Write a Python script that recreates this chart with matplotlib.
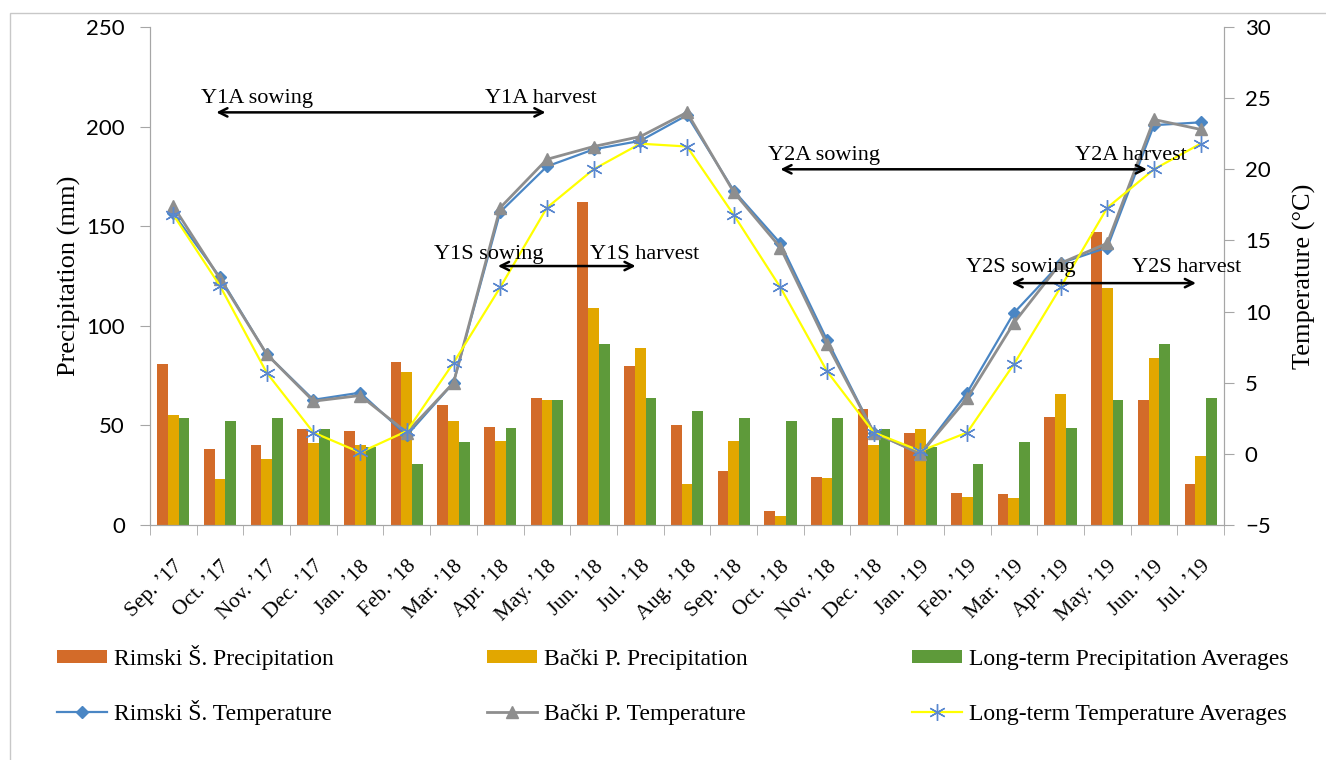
import matplotlib
matplotlib.use("Agg")
import matplotlib.pyplot as plt
import numpy as np
from matplotlib.patches import Rectangle

months = ["Sep. ’17", "Oct. ’17", "Nov. ’17", "Dec. ’17", "Jan. ’18", "Feb. ’18",
          "Mar. ’18", "Apr. ’18", "May. ’18", "Jun. ’18", "Jul. ’18", "Aug. ’18",
          "Sep. ’18", "Oct. ’18", "Nov. ’18", "Dec. ’18", "Jan. ’19", "Feb. ’19",
          "Mar. ’19", "Apr. ’19", "May. ’19", "Jun. ’19", "Jul. ’19"]

# precipitation (mm)
rimski_prec = [81, 38, 40, 48, 47, 82, 60, 49, 64, 162, 80, 50,
               27, 7, 24, 58, 46, 16, 15.5, 54, 147, 63, 20.5]
backi_prec = [55, 23, 33, 41, 40, 77, 52, 42, 63, 109, 89, 20.6,
              42, 4.5, 23.6, 40, 48, 14, 13.5, 66, 119, 84, 34.6]
longterm_prec = [53.7, 52, 53.7, 48, 39, 30.6, 41.7, 48.7, 63, 91, 64, 57,
                 53.7, 52, 53.7, 48, 39, 30.6, 41.7, 48.7, 63, 91, 64]

# temperature (°C)
rimski_temp = [16.9, 12.4, 7.0, 3.8, 4.3, 1.3, 5.0, 17.0, 20.2, 21.4, 22.0, 23.8,
               18.5, 14.8, 8.0, 1.5, 0.0, 4.3, 9.9, 13.4, 14.5, 23.1, 23.3]
backi_temp = [17.4, 12.3, 7.0, 3.7, 4.1, 1.5, 5.0, 17.3, 20.7, 21.6, 22.3, 24.0,
              18.4, 14.5, 7.7, 1.5, 0.0, 3.9, 9.2, 13.4, 14.8, 23.5, 22.8]
longterm_temp = [16.8, 11.8, 5.7, 1.5, 0.1, 1.6, 6.4, 11.7, 17.3, 20.0, 21.8, 21.6,
                 16.8, 11.7, 5.8, 1.5, 0.2, 1.5, 6.3, 11.7, 17.3, 20.0, 21.8]

# sowing / harvest periods: (label left, label right, start idx, end idx)
periods = [("Y1A sowing", "Y1A harvest", 0.92, 7.97),
           ("Y1S sowing", "Y1S harvest", 6.95, 9.9),
           ("Y2A sowing", "Y2A harvest", 13.0, 20.85),
           ("Y2S sowing", "Y2S harvest", 17.95, 21.9)]

SERIF = "Liberation Serif"
SANS = "Lato"
c_orange = "#D36B29"
c_gold = "#E2A700"
c_green = "#5E9A3A"
c_blue = "#4A86C4"
c_gray = "#8E8E8E"
c_yellow = "#FFFF00"
c_star = "#5A88CF"
c_axis = "#A6A6A6"

fig = plt.figure(figsize=(13.26, 7.6), dpi=100)
W, H = 1326, 760
ax = fig.add_axes([150 / W, 1 - 525 / H, (1224 - 150) / W, (525 - 27) / H])
ax2 = ax.twinx()

# frame around chart area
fig.patches.append(Rectangle((10 / W, -0.05), 1.1, 1 - 13 / H + 0.05, transform=fig.transFigure,
                             fill=False, edgecolor="#C8C8C8", lw=1))

x = np.arange(len(months))
bw = 0.23
b1 = ax.bar(x - bw, rimski_prec, bw, color=c_orange, label="Rimski Š. Precipitation")
b2 = ax.bar(x, backi_prec, bw, color=c_gold, label="Bački P. Precipitation")
b3 = ax.bar(x + bw, longterm_prec, bw, color=c_green, label="Long-term Precipitation Averages")

ax.set_xlim(-0.5, len(months) - 0.5)
ax.set_ylim(0, 250)
ax.set_yticks(np.arange(0, 251, 50))
ax2.set_ylim(-5, 30)
ax2.set_yticks(np.arange(-5, 31, 5))

l1, = ax2.plot(x, rimski_temp, color=c_blue, lw=1.6, marker="D", ms=6, mfc=c_blue, mec=c_blue,
               label="Rimski Š. Temperature")
l2, = ax2.plot(x, backi_temp, color=c_gray, lw=2, marker="^", ms=8, mfc=c_gray, mec=c_gray,
               label="Bački P. Temperature")
l3, = ax2.plot(x, longterm_temp, color=c_yellow, lw=1.6, marker=(6, 2, 0), ms=12, mec=c_star,
               mew=1, label="Long-term Temperature Averages")

# x axis ticks: labels at centres, tick marks at boundaries
ax.set_xticks(x)
ax.set_xticklabels(months, rotation=45, ha="right", va="top", rotation_mode="anchor",
                   fontsize=15.5, family=SERIF)
ax.set_xticks(np.arange(-0.5, len(months), 1), minor=True)
ax.tick_params(axis="x", which="major", length=0, pad=23)
ax.tick_params(axis="x", which="minor", length=7, color=c_axis)

for a in (ax, ax2):
    for s in a.spines.values():
        s.set_color(c_axis)
    a.spines["top"].set_visible(False)
ax.tick_params(axis="y", length=7, color=c_axis, pad=11, labelsize=16)
ax2.tick_params(axis="y", length=7, color=c_axis, pad=8, labelsize=16)
for lab in ax.get_yticklabels() + ax2.get_yticklabels():
    lab.set_family(SANS)

ax.set_ylabel("Precipitation (mm)", fontsize=19, family=SERIF, labelpad=4)
ax2.set_ylabel("Temperature (°C)", fontsize=19, family=SERIF, labelpad=16)

# period arrows + labels (y in °C units)
arrow_y = [24.0, 13.2, 20.0, 12.0]
text_y = [25.0, 14.0, 21.0, 13.1]
text_x = [(1.8, 7.88), (6.75, 10.1), (13.94, 20.5), (18.14, 21.7)]
for (ls, lh, x0, x1), ay, ty, (tx0, tx1) in zip(periods, arrow_y, text_y, text_x):
    ax2.annotate("", xy=(x0, ay), xytext=(x1, ay),
                 arrowprops=dict(arrowstyle="<->,head_length=0.6,head_width=0.3", color="black", lw=1.8,
                                 shrinkA=0, shrinkB=0))
    ax2.text(tx0, ty, ls, ha="center", va="center", fontsize=16, family=SERIF)
    ax2.text(tx1, ty, lh, ha="center", va="center", fontsize=16, family=SERIF)

# legend: one small legend per entry, bottom-anchored so baselines line up
col_x = [57, 487, 912]
row_bottom = [670, 725]
for row, hs in enumerate([[b1, b2, b3], [l1, l2, l3]]):
    for h, cx in zip(hs, col_x):
        fig.legend([h], [h.get_label()], loc="lower left",
                   bbox_to_anchor=(cx / W, 1 - row_bottom[row] / H), frameon=False, borderpad=0,
                   borderaxespad=0, handlelength=2.1, handleheight=0.5, handletextpad=0.3,
                   prop={"family": SERIF, "size": 17})

fig.savefig("out.png", dpi=100)
